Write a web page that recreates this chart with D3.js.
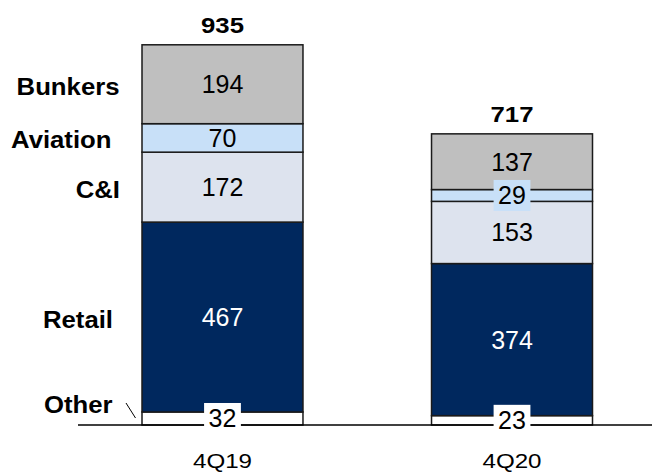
<!DOCTYPE html>
<html>
<head>
<meta charset="utf-8">
<script src="https://cdn.jsdelivr.net/npm/d3@7"></script>
<style>
  html, body { margin: 0; padding: 0; background: #ffffff; }
  svg { display: block; font-family: "Liberation Sans", Arial, sans-serif; }
</style>
</head>
<body>
<svg id="chart" width="652" height="472"></svg>
<script>
// Volumes by segment, per quarter
const periods   = ["4Q19", "4Q20"];
const segments  = ["Other", "Retail", "C&I", "Aviation", "Bunkers"];
const other     = [32, 23];
const retail    = [467, 374];
const ci        = [172, 153];
const aviation  = [70, 29];
const bunkers   = [194, 137];
const totals    = [935, 717];

const colors = {
  "Other":    "#ffffff",
  "Retail":   "#00285e",
  "C&I":      "#dde3ee",
  "Aviation": "#c8e0f8",
  "Bunkers":  "#bfbfbf"
};
const labelColors = { "Retail": "#ffffff" };

const rows = periods.map((p, i) => ({
  period: p,
  "Other": other[i], "Retail": retail[i], "C&I": ci[i],
  "Aviation": aviation[i], "Bunkers": bunkers[i],
  total: totals[i]
}));

const svg = d3.select("#chart");

const x = d3.scaleBand()
  .domain(periods)
  .range([142, 592.5])
  .paddingInner(0.444)
  .paddingOuter(0);

const y = d3.scaleLinear()
  .domain([0, 935])
  .range([425, 44.8]);

const stacked = d3.stack().keys(segments)(rows);

// stacked bars
const layers = svg.append("g").selectAll("g")
  .data(stacked)
  .join("g")
  .attr("fill", d => colors[d.key]);

layers.selectAll("rect")
  .data(d => d.map(v => Object.assign(v, { key: d.key })))
  .join("rect")
  .attr("x", d => x(d.data.period))
  .attr("width", x.bandwidth())
  .attr("y", d => y(d[1]))
  .attr("height", d => y(d[0]) - y(d[1]))
  .attr("stroke", "#1a1a1a")
  .attr("stroke-width", 1.5);

// baseline
svg.append("line")
  .attr("x1", 78).attr("x2", 652)
  .attr("y1", y(0)).attr("y2", y(0))
  .attr("stroke", "#000").attr("stroke-width", 1.5);

// segment value labels
const valueSize = 25;
const labelG = svg.append("g");
stacked.forEach(layer => {
  layer.forEach(d => {
    const v = d[1] - d[0];
    const cx = x(d.data.period) + x.bandwidth() / 2;
    const cy = (y(d[0]) + y(d[1])) / 2;
    const segH = y(d[0]) - y(d[1]);
    const g = labelG.append("g");
    const t = g.append("text")
      .attr("x", cx)
      .attr("y", cy + valueSize * 0.36)
      .attr("text-anchor", "middle")
      .attr("font-size", valueSize)
      .attr("fill", labelColors[layer.key] || "#000")
      .text(v);
    if (segH < valueSize) {
      const bb = t.node().getBBox();
      g.insert("rect", "text")
        .attr("x", bb.x - 4.5)
        .attr("y", bb.y - 1.5)
        .attr("width", bb.width + 9)
        .attr("height", bb.height + 3)
        .attr("fill", colors[layer.key]);
    }
  });
});

// totals above bars
svg.append("g").selectAll("text")
  .data(rows)
  .join("text")
  .attr("transform", d => `translate(${x(d.period) + x.bandwidth() / 2},${y(d.total) - 11.5}) scale(1.17,1)`)
  .attr("text-anchor", "middle")
  .attr("font-size", 22)
  .attr("font-weight", "bold")
  .attr("fill", "#000")
  .text(d => d.total);

// category axis labels
svg.append("g").selectAll("text")
  .data(periods)
  .join("text")
  .attr("transform", d => `translate(${x(d) + x.bandwidth() / 2},467.5) scale(1.15,1)`)
  .attr("text-anchor", "middle")
  .attr("font-size", 21)
  .attr("fill", "#000")
  .text(d => d);

// segment names beside the first bar
const nameRight = { "Bunkers": 119.5, "Aviation": 111.5, "C&I": 120, "Retail": 113, "Other": 112.5 };
const nameBase  = { "Bunkers": 95, "Aviation": 148, "C&I": 198, "Retail": 328, "Other": 413 };
svg.append("g").selectAll("text")
  .data(segments)
  .join("text")
  .attr("transform", d => `translate(${nameRight[d]},${nameBase[d]}) scale(1.05,1)`)
  .attr("text-anchor", "end")
  .attr("font-size", 24.5)
  .attr("font-weight", "bold")
  .attr("fill", "#000")
  .text(d => d);

// leader tick for "Other"
svg.append("line")
  .attr("x1", 126).attr("y1", 403)
  .attr("x2", 135.5).attr("y2", 418)
  .attr("stroke", "#000").attr("stroke-width", 1);
</script>
</body>
</html>
